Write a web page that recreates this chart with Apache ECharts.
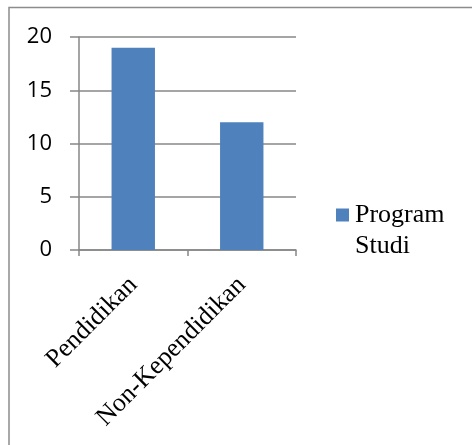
<!DOCTYPE html>
<html>
<head>
<meta charset="utf-8">
<script src="https://cdn.jsdelivr.net/npm/echarts@6/dist/echarts.min.js"></script>
<style>
html, body { margin: 0; padding: 0; background: #fff; }
#main { width: 472px; height: 445px; }
</style>
</head>
<body>
<div id="main"></div>
<script>
// kategori
var categories = ['Pendidikan', 'Non-Kependidikan'];
// jumlah program studi
var values = [19, 12];
var seriesName = 'Program Studi';
var yTicks = [0, 5, 10, 15, 20];

var chart = echarts.init(document.getElementById('main'));
var axisGray = '#878787';
var barColor = '#4f81bd';

var option = {
    animation: false,
    backgroundColor: '#fff',
    grid: {
        left: 79,
        right: 176,
        top: 37,
        bottom: 195
    },
    graphic: [{
        // bingkai grafik
        type: 'polyline',
        shape: { points: [[9, 450], [9, 7.5], [480, 7.5]] },
        style: { stroke: '#8c8c8c', lineWidth: 1.5, fill: null }
    }],
    legend: {
        data: [seriesName],
        left: 331,
        top: 202,
        padding: 0,
        itemWidth: 0,
        itemHeight: 0,
        itemGap: 0,
        icon: 'rect',
        formatter: function (name) {
            var parts = name.split(' ');
            return '{sq|}{t|' + parts[0] + '}\n{s|' + parts[1] + '}';
        },
        textStyle: {
            fontFamily: 'Liberation Serif',
            fontSize: 26,
            color: '#000',
            rich: {
                sq: { width: 13, height: 13, backgroundColor: barColor },
                t: { fontFamily: 'Liberation Serif', fontSize: 26, lineHeight: 31, padding: [0, 0, 0, 6], color: '#000' },
                s: { fontFamily: 'Liberation Serif', fontSize: 26, lineHeight: 31, padding: [0, 0, 0, 19], color: '#000' }
            }
        }
    },
    xAxis: {
        type: 'category',
        data: categories,
        axisLine: { lineStyle: { color: axisGray, width: 1.5 } },
        axisTick: { show: true, alignWithLabel: false, length: 6, lineStyle: { color: axisGray, width: 1.5 } },
        axisLabel: {
            rotate: 45,
            margin: 31,
            fontFamily: 'Liberation Serif',
            fontSize: 26,
            color: '#000'
        }
    },
    yAxis: {
        type: 'value',
        min: yTicks[0],
        max: yTicks[yTicks.length - 1],
        interval: 5,
        axisLine: { show: true, lineStyle: { color: axisGray, width: 1.5 } },
        axisTick: { show: true, inside: false, length: 9, lineStyle: { color: axisGray, width: 1.5 } },
        splitLine: { show: true, lineStyle: { color: axisGray, width: 1.5 } },
        axisLabel: {
            margin: 27,
            fontFamily: 'Open Sans',
            fontSize: 22,
            color: '#000'
        }
    },
    series: [{
        name: seriesName,
        type: 'bar',
        data: values,
        barWidth: '40%',
        itemStyle: { color: barColor }
    }]
};

chart.setOption(option);
</script>
</body>
</html>
